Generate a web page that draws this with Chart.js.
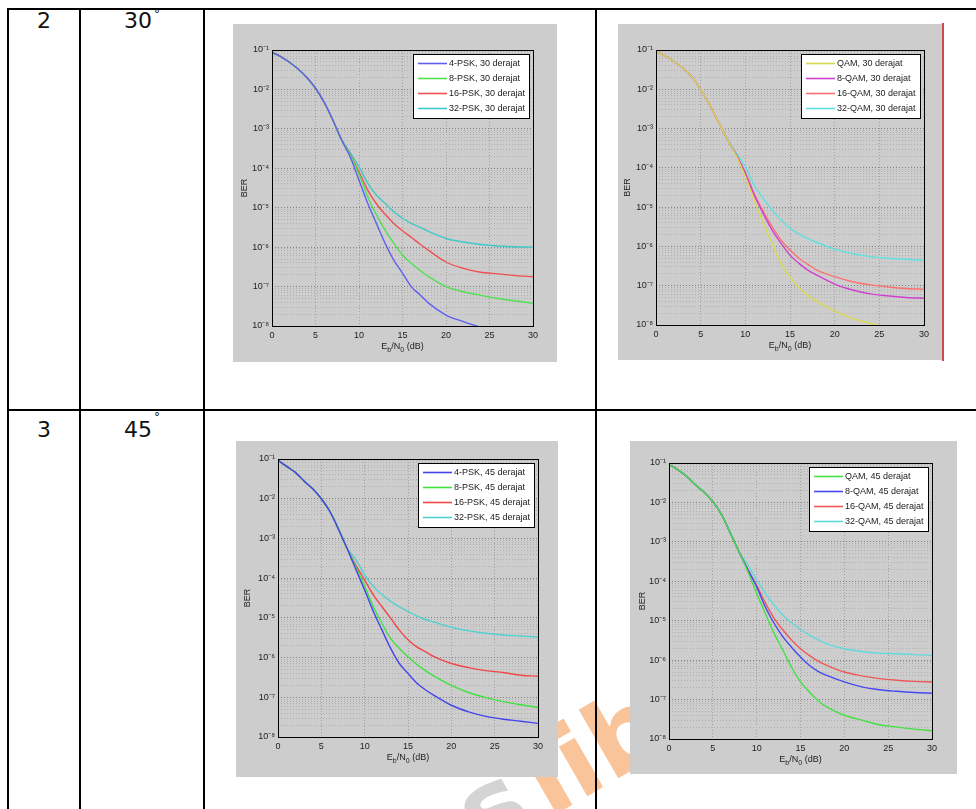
<!DOCTYPE html>
<html>
<head>
<meta charset="utf-8">
<script src="https://cdn.jsdelivr.net/npm/chart.js@4.4.0/dist/chart.umd.min.js"></script>
<style>
  body { margin: 0; background: #fff; }
  #page { position: relative; width: 976px; height: 809px; overflow: hidden; font-family: "DejaVu Sans", sans-serif; }
  .ln { position: absolute; background: #000; }
  .cell { position: absolute; font-size: 22px; line-height: 22px; color: #111; text-align: center; }
  .deg { position: absolute; font-size: 12px; line-height: 12px; color: #111; }
  .plot { position: absolute; background: #cdcdcd; }
  .wm { position: absolute; font-family: "DejaVu Sans", sans-serif; font-weight: bold; font-size: 104px; line-height: 104px;
        transform: rotate(-30deg); transform-origin: 0 0; white-space: nowrap; }
</style>
</head>
<body>
<div id="page">
  <!-- watermark sits behind the figures -->
  <div class="wm" style="left:378px;top:812px;color:#d4d4d4">as</div>
  <div class="wm" style="left:505px;top:742px;color:#f9c49a">lib</div>

  <!-- table rules -->
  <div class="ln" style="left:7px;top:8px;width:969px;height:2px"></div>
  <div class="ln" style="left:7px;top:409px;width:969px;height:2px"></div>
  <div class="ln" style="left:7px;top:8px;width:2px;height:801px"></div>
  <div class="ln" style="left:79px;top:8px;width:2px;height:801px"></div>
  <div class="ln" style="left:203px;top:8px;width:2px;height:801px"></div>
  <div class="ln" style="left:595px;top:8px;width:2px;height:801px"></div>

  <div class="cell" style="left:9px;width:70px;top:10px">2</div>
  <div class="cell" style="left:108px;width:60px;top:10px">30</div>
  <div class="deg" style="left:154px;top:8px">°</div>
  <div class="cell" style="left:9px;width:70px;top:419px">3</div>
  <div class="cell" style="left:108px;width:60px;top:419px">45</div>
  <div class="deg" style="left:154px;top:411px">°</div>

  <div class="plot" style="left:233px;top:24px;width:324px;height:338px"><canvas id="c1"></canvas></div>
  <div class="plot" style="left:618px;top:24px;width:325px;height:336px"><canvas id="c2"></canvas></div>
  <div class="ln" style="left:942px;top:23px;width:2px;height:338px;background:#d04848"></div>
  <div class="plot" style="left:236px;top:441px;width:322px;height:336px"><canvas id="c3"></canvas></div>
  <div class="plot" style="left:630px;top:441px;width:327px;height:333px"><canvas id="c4"></canvas></div>
</div>

<script>
// Eb/N0 sample points (dB)
const ebn0 = [0, 1, 2, 3, 4, 5, 6, 7, 8, 9, 10, 11, 12, 13, 14, 15, 16, 17, 18, 20, 22, 24, 26, 28, 30];

const xMin = 0, xMax = 30, xStep = 5;
const yTickValues = [1e-8, 1e-7, 1e-6, 1e-5, 1e-4, 1e-3, 1e-2, 1e-1];
const yTickLabels = ['10⁻⁸', '10⁻⁷', '10⁻⁶', '10⁻⁵', '10⁻⁴', '10⁻³', '10⁻²', '10⁻¹'];

// row 2: 30 derajat
const psk30Labels = ['4-PSK, 30 derajat', '8-PSK, 30 derajat', '16-PSK, 30 derajat', '32-PSK, 30 derajat'];
const psk4_30  = [8.7e-2, 6.8e-2, 4.9e-2, 3.3e-2, 2.0e-2, 1.07e-2, 4.7e-3, 1.66e-3, 5.2e-4, 1.9e-4, 5.0e-5, 1.29e-5, 4.0e-6, 1.26e-6, 4.7e-7, 2.2e-7, 1.0e-7, 6.2e-8, 3.8e-8, 1.9e-8, 1.29e-8, 9.3e-9, 7.1e-9, 5.6e-9, 4.7e-9];
const psk8_30  = [8.7e-2, 6.8e-2, 4.9e-2, 3.3e-2, 2.0e-2, 1.07e-2, 4.7e-3, 1.66e-3, 5.2e-4, 2.1e-4, 7.1e-5, 1.9e-5, 6.6e-6, 2.7e-6, 1.26e-6, 6.3e-7, 3.9e-7, 2.6e-7, 1.78e-7, 1.0e-7, 7.4e-8, 6.0e-8, 5.0e-8, 4.3e-8, 3.8e-8];
const psk16_30 = [8.7e-2, 6.8e-2, 4.9e-2, 3.3e-2, 2.0e-2, 1.07e-2, 4.7e-3, 1.66e-3, 5.2e-4, 2.2e-4, 8.1e-5, 2.8e-5, 1.26e-5, 6.8e-6, 4.0e-6, 2.6e-6, 1.78e-6, 1.2e-6, 8.3e-7, 4.2e-7, 2.9e-7, 2.3e-7, 2.1e-7, 1.9e-7, 1.78e-7];
const psk32_30 = [8.7e-2, 6.8e-2, 4.9e-2, 3.3e-2, 2.0e-2, 1.07e-2, 4.7e-3, 1.66e-3, 5.4e-4, 2.5e-4, 1.1e-4, 4.2e-5, 2.1e-5, 1.29e-5, 7.9e-6, 5.4e-6, 4.0e-6, 3.2e-6, 2.5e-6, 1.66e-6, 1.35e-6, 1.17e-6, 1.07e-6, 1.02e-6, 1.0e-6];

const qam30Labels = ['QAM, 30 derajat', '8-QAM, 30 derajat', '16-QAM, 30 derajat', '32-QAM, 30 derajat'];
const qam4_30  = [9.1e-2, 7.1e-2, 5.1e-2, 3.5e-2, 2.1e-2, 1.0e-2, 4.0e-3, 1.45e-3, 5.2e-4, 2.0e-4, 6.0e-5, 1.51e-5, 3.9e-6, 1.2e-6, 3.7e-7, 1.66e-7, 8.9e-8, 5.6e-8, 4.0e-8, 2.3e-8, 1.48e-8, 1.1e-8, 8.7e-9, 7.4e-9, 6.3e-9];
const qam8_30  = [9.1e-2, 7.1e-2, 5.1e-2, 3.5e-2, 2.1e-2, 1.0e-2, 4.0e-3, 1.45e-3, 5.2e-4, 2.1e-4, 7.2e-5, 2.0e-5, 6.9e-6, 2.6e-6, 1.2e-6, 6.0e-7, 3.7e-7, 2.5e-7, 1.86e-7, 1.1e-7, 7.8e-8, 6.2e-8, 5.5e-8, 5.0e-8, 4.8e-8];
const qam16_30 = [9.1e-2, 7.1e-2, 5.1e-2, 3.5e-2, 2.1e-2, 1.0e-2, 4.0e-3, 1.45e-3, 5.2e-4, 2.1e-4, 7.6e-5, 2.2e-5, 7.8e-6, 3.2e-6, 1.45e-6, 8.1e-7, 5.0e-7, 3.5e-7, 2.5e-7, 1.7e-7, 1.26e-7, 1.05e-7, 9.3e-8, 8.5e-8, 8.1e-8];
const qam32_30 = [9.1e-2, 7.1e-2, 5.1e-2, 3.5e-2, 2.1e-2, 1.0e-2, 4.0e-3, 1.48e-3, 5.5e-4, 2.4e-4, 1.07e-4, 3.6e-5, 1.66e-5, 8.5e-6, 4.7e-6, 2.9e-6, 2.1e-6, 1.58e-6, 1.26e-6, 8.5e-7, 6.5e-7, 5.5e-7, 5.0e-7, 4.7e-7, 4.4e-7];

// row 3: 45 derajat
const psk45Labels = ['4-PSK, 45 derajat', '8-PSK, 45 derajat', '16-PSK, 45 derajat', '32-PSK, 45 derajat'];
const psk4_45  = [9.3e-2, 6.5e-2, 4.6e-2, 2.8e-2, 1.78e-2, 1.0e-2, 4.7e-3, 1.66e-3, 5.4e-4, 1.62e-4, 5.0e-5, 1.45e-5, 4.9e-6, 1.7e-6, 7.1e-7, 4.0e-7, 2.3e-7, 1.55e-7, 1.12e-7, 6.3e-8, 4.3e-8, 3.3e-8, 2.8e-8, 2.5e-8, 2.2e-8];
const psk8_45  = [9.3e-2, 6.5e-2, 4.6e-2, 2.8e-2, 1.78e-2, 1.0e-2, 4.7e-3, 1.66e-3, 5.4e-4, 1.86e-4, 6.2e-5, 1.9e-5, 7.2e-6, 3.0e-6, 1.7e-6, 1.05e-6, 6.8e-7, 4.7e-7, 3.4e-7, 2.0e-7, 1.32e-7, 9.8e-8, 7.8e-8, 6.5e-8, 5.6e-8];
const psk16_45 = [9.3e-2, 6.5e-2, 4.6e-2, 2.8e-2, 1.78e-2, 1.0e-2, 4.7e-3, 1.66e-3, 5.4e-4, 2.1e-4, 8.9e-5, 3.8e-5, 1.9e-5, 9.8e-6, 4.9e-6, 2.8e-6, 1.86e-6, 1.41e-6, 1.05e-6, 7.1e-7, 5.6e-7, 4.7e-7, 4.2e-7, 3.6e-7, 3.4e-7];
const psk32_45 = [9.3e-2, 6.5e-2, 4.6e-2, 2.8e-2, 1.78e-2, 1.0e-2, 4.9e-3, 1.78e-3, 5.6e-4, 2.9e-4, 1.2e-4, 6.2e-5, 3.8e-5, 2.6e-5, 1.9e-5, 1.45e-5, 1.12e-5, 9.1e-6, 7.8e-6, 5.8e-6, 4.7e-6, 4.1e-6, 3.7e-6, 3.5e-6, 3.3e-6];

const qam45Labels = ['QAM, 45 derajat', '8-QAM, 45 derajat', '16-QAM, 45 derajat', '32-QAM, 45 derajat'];
const qam4_45  = [9.1e-2, 6.8e-2, 4.6e-2, 2.8e-2, 1.82e-2, 1.05e-2, 4.9e-3, 1.66e-3, 5.5e-4, 1.74e-4, 4.9e-5, 1.51e-5, 4.7e-6, 1.78e-6, 6.5e-7, 2.8e-7, 1.55e-7, 9.5e-8, 6.5e-8, 4.0e-8, 3.0e-8, 2.3e-8, 2.0e-8, 1.78e-8, 1.62e-8];
const qam8_45  = [9.1e-2, 6.8e-2, 4.6e-2, 2.8e-2, 1.82e-2, 1.05e-2, 4.9e-3, 1.66e-3, 5.5e-4, 1.95e-4, 7.2e-5, 2.2e-5, 8.5e-6, 3.9e-6, 2.1e-6, 1.2e-6, 7.4e-7, 5.2e-7, 4.1e-7, 2.8e-7, 2.1e-7, 1.78e-7, 1.62e-7, 1.51e-7, 1.45e-7];
const qam16_45 = [9.1e-2, 6.8e-2, 4.6e-2, 2.8e-2, 1.82e-2, 1.05e-2, 4.9e-3, 1.66e-3, 5.5e-4, 2.0e-4, 7.9e-5, 2.8e-5, 1.15e-5, 5.8e-6, 3.2e-6, 1.95e-6, 1.32e-6, 9.5e-7, 7.4e-7, 5.0e-7, 4.0e-7, 3.4e-7, 3.1e-7, 2.9e-7, 2.8e-7];
const qam32_45 = [9.1e-2, 6.8e-2, 4.6e-2, 2.8e-2, 1.82e-2, 1.05e-2, 5.0e-3, 1.74e-3, 5.6e-4, 2.6e-4, 1.07e-4, 4.9e-5, 2.5e-5, 1.38e-5, 8.9e-6, 6.0e-6, 4.3e-6, 3.3e-6, 2.6e-6, 1.95e-6, 1.66e-6, 1.51e-6, 1.45e-6, 1.38e-6, 1.32e-6];

const FONT = '"Liberation Sans", Arial, sans-serif';
const TXT = '#222';

// MATLAB style log grid: every m*10^k between the decades
const yGridValues = [];
for (let e = -8; e < -1; e++) for (let m = 1; m < 10; m++) yGridValues.push(m * Math.pow(10, e));
yGridValues.push(1e-1);
const isDecade = v => Math.abs(Math.log10(v) - Math.round(Math.log10(v))) < 1e-6;

// black box round the axes
const frame = {
  id: 'frame',
  afterDatasetsDraw(chart) {
    const { ctx, chartArea: a } = chart;
    ctx.save();
    ctx.strokeStyle = '#000';
    ctx.lineWidth = 1;
    ctx.strokeRect(Math.round(a.left) + 0.5, Math.round(a.top) + 0.5, Math.round(a.right - a.left), Math.round(a.bottom - a.top));
    ctx.restore();
  }
};

// boxed legend in the top right corner of the axes
const legendBox = {
  id: 'legendBox',
  afterDraw(chart) {
    const { ctx, chartArea } = chart;
    const ds = chart.data.datasets;
    ctx.save();
    ctx.font = '9px ' + FONT;
    const tw = Math.max(...ds.map(d => ctx.measureText(d.label).width));
    const rowH = 15, lineLen = 29;
    const w = Math.round(5 + lineLen + 2 + tw + 4), h = ds.length * rowH + 4;
    const x = Math.round(chartArea.right - 4 - w), y = Math.round(chartArea.top + 4);
    ctx.fillStyle = '#fff';
    ctx.fillRect(x, y, w, h);
    ctx.strokeStyle = '#000';
    ctx.lineWidth = 1;
    ctx.strokeRect(x + 0.5, y + 0.5, w, h);
    ds.forEach((d, i) => {
      const cy = y + 2 + rowH * (i + 0.5);
      ctx.strokeStyle = d.borderColor;
      ctx.lineWidth = 1.6;
      ctx.beginPath();
      ctx.moveTo(x + 5, cy);
      ctx.lineTo(x + 5 + lineLen, cy);
      ctx.stroke();
      ctx.fillStyle = TXT;
      ctx.textBaseline = 'middle';
      ctx.fillText(d.label, x + 5 + lineLen + 2, cy);
    });
    ctx.restore();
  }
};

// Eb/N0 (dB) with subscripts under the x axis
const xTitle = {
  id: 'xTitle',
  afterDraw(chart) {
    const { ctx, chartArea } = chart;
    const big = '9px ' + FONT, small = '7px ' + FONT;
    const parts = [['E', big, 0], ['b', small, 3], ['/N', big, 0], ['0', small, 3], [' (dB)', big, 0]];
    ctx.save();
    let w = 0;
    parts.forEach(p => { ctx.font = p[1]; w += ctx.measureText(p[0]).width; });
    let x = (chartArea.left + chartArea.right) / 2 - w / 2;
    const y = chartArea.bottom + 23;
    ctx.fillStyle = TXT;
    ctx.textAlign = 'left';
    ctx.textBaseline = 'alphabetic';
    parts.forEach(p => {
      ctx.font = p[1];
      ctx.fillText(p[0], x, y + p[2]);
      x += ctx.measureText(p[0]).width;
    });
    ctx.restore();
  }
};

function makeChart(id, labels, series, colors, g) {
  new Chart(document.getElementById(id), {
    type: 'line',
    data: {
      datasets: series.map((s, i) => ({
        label: labels[i],
        data: ebn0.map((x, j) => ({ x: x, y: s[j] })),
        borderColor: colors[i],
        borderWidth: 1.4,
        pointRadius: 0,
        cubicInterpolationMode: 'monotone',
        clip: 0
      }))
    },
    options: {
      responsive: true,
      maintainAspectRatio: false,
      animation: false,
      layout: { padding: { left: 0, top: g.top, right: g.right, bottom: 0 } },
      plugins: { legend: { display: false }, tooltip: { enabled: false } },
      scales: {
        x: {
          type: 'linear', min: xMin, max: xMax,
          afterFit: s => { s.height = g.bottom; },
          ticks: { stepSize: xStep, font: { family: FONT, size: 9 }, color: TXT, padding: 4, maxRotation: 0 },
          grid: { color: '#a0a0a0', lineWidth: 1, drawTicks: false },
          border: { display: false, dash: [1, 2] }
        },
        y: {
          type: 'logarithmic', min: yTickValues[0], max: yTickValues[yTickValues.length - 1],
          afterFit: s => { s.width = g.left; },
          afterBuildTicks: s => { s.ticks = yGridValues.map(v => ({ value: v })); },
          ticks: {
            autoSkip: false, font: { family: FONT, size: 9 }, color: TXT, padding: 3,
            callback: v => {
              const i = yTickValues.findIndex(t => Math.abs(t - v) / t < 1e-6);
              return i >= 0 ? yTickLabels[i] : '';
            }
          },
          grid: {
            color: c => (c.tick && isDecade(c.tick.value)) ? '#808080' : '#b0b0b0',
            lineWidth: 1, drawTicks: false
          },
          border: { display: false, dash: [1, 2] },
          title: { display: true, text: 'BER', font: { family: FONT, size: 9 }, color: TXT, padding: { top: g.titlePad, bottom: 0 } }
        }
      }
    },
    plugins: [frame, legendBox, xTitle]
  });
}

makeChart('c1', psk30Labels, [psk4_30, psk8_30, psk16_30, psk32_30],
  ['#6060f0', '#50e050', '#f05050', '#40c8c8'], { left: 39, top: 26, right: 24, bottom: 36, titlePad: 6.6 });
makeChart('c2', qam30Labels, [qam4_30, qam8_30, qam16_30, qam32_30],
  ['#d8d850', '#d040d0', '#ff7070', '#60e0e0'], { left: 38, top: 26, right: 19, bottom: 35, titlePad: 4.6 });
makeChart('c3', psk45Labels, [psk4_45, psk8_45, psk16_45, psk32_45],
  ['#4444ee', '#40e040', '#f04848', '#50d0d0'], { left: 42, top: 18, right: 20, bottom: 40, titlePad: 6.6 });
makeChart('c4', qam45Labels, [qam4_45, qam8_45, qam16_45, qam32_45],
  ['#44e044', '#4848f0', '#f05858', '#60dada'], { left: 39, top: 22, right: 25, bottom: 35, titlePad: 7.6 });
</script>
</body>
</html>
